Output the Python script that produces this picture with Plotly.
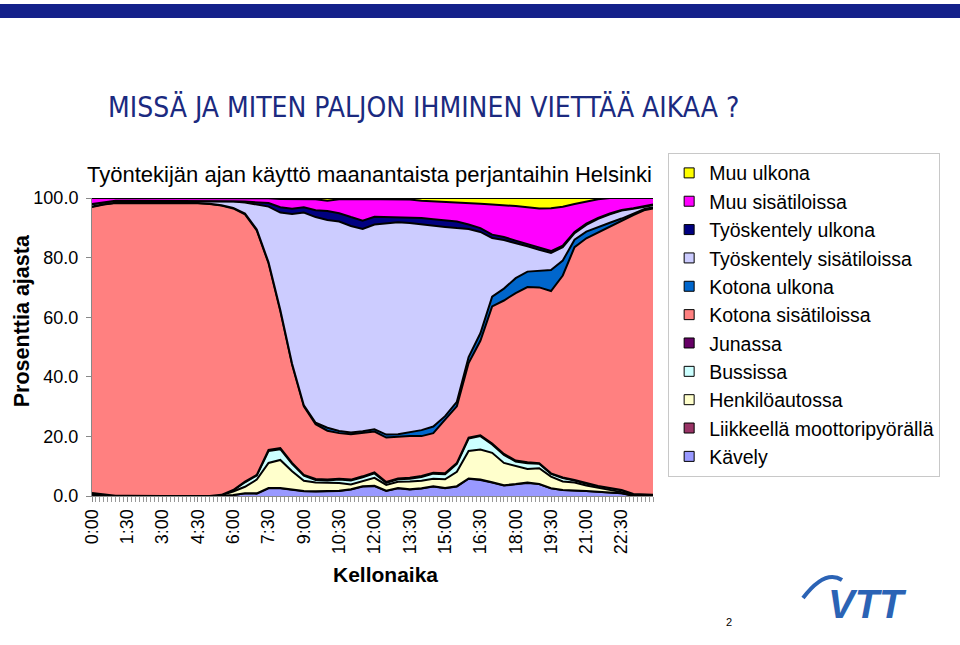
import plotly.graph_objects as go

# ---- data (percent of time, stacked bottom -> top) ----
times = ["0:00", "0:30", "1:00", "1:30", "2:00", "2:30", "3:00", "3:30", "4:00", "4:30",
         "5:00", "5:30", "6:00", "6:30", "7:00", "7:30", "8:00", "8:30", "9:00", "9:30",
         "10:00", "10:30", "11:00", "11:30", "12:00", "12:30", "13:00", "13:30", "14:00", "14:30",
         "15:00", "15:30", "16:00", "16:30", "17:00", "17:30", "18:00", "18:30", "19:00", "19:30",
         "20:00", "20:30", "21:00", "21:30", "22:00", "22:30", "23:00", "23:30", "23:50"]

kavely = [0.4, 0.2, 0, 0, 0, 0, 0, 0, 0, 0,
          0, 0.1, 0.3, 0.9, 0.8, 2.6, 2.6, 2.0, 1.6, 1.5,
          1.5, 1.7, 2.2, 3.2, 3.3, 1.7, 2.6, 2.2, 2.5, 3.2,
          2.6, 3.2, 5.8, 5.4, 4.5, 3.5, 3.9, 4.4, 4.0, 2.6,
          2.0, 1.9, 1.7, 1.4, 1.1, 0.9, 0.1, 0.1, 0.1]
moottoripyora = [0, 0, 0, 0, 0, 0, 0, 0, 0, 0,
                 0, 0, 0, 0, 0.1, 0.1, 0.1, 0.1, 0.1, 0.1,
                 0.1, 0.1, 0.1, 0.1, 0.1, 0.1, 0.1, 0.1, 0.1, 0.1,
                 0.1, 0.1, 0.1, 0.1, 0.1, 0.1, 0.1, 0.1, 0, 0,
                 0, 0, 0, 0, 0, 0, 0, 0, 0]
henkiloauto = [0.4, 0.3, 0.1, 0.1, 0, 0, 0, 0, 0, 0,
               0, 0.2, 1.2, 2.2, 4.6, 8.4, 9.4, 6.2, 3.4, 2.9,
               2.9, 2.6, 1.6, 1.8, 2.7, 1.9, 2.1, 2.6, 2.5, 2.5,
               2.9, 4.8, 9.2, 10.1, 9.9, 7.5, 6.1, 4.6, 5.3, 3.9,
               2.9, 2.6, 1.8, 1.4, 0.9, 0.4, 0.1, 0.2, 0.1]
bussi = [0.1, 0, 0, 0, 0, 0, 0, 0, 0, 0,
         0, 0.1, 0.4, 1.5, 1.4, 4.0, 3.6, 2.5, 1.7, 0.9,
         0.7, 1.1, 1.3, 1.2, 1.5, 0.7, 0.8, 0.9, 1.3, 1.7,
         1.7, 2.7, 4.2, 4.5, 2.8, 2.7, 1.5, 1.9, 1.5, 0.9,
         1.1, 0.7, 0.6, 0.5, 0.6, 0.6, 0.4, 0.1, 0.1]
junassa = [0.1, 0.1, 0, 0, 0, 0, 0, 0, 0, 0,
           0, 0, 0.1, 0.2, 0.2, 0.4, 0.4, 0.3, 0.3, 0.3,
           0.3, 0.3, 0.3, 0.3, 0.3, 0.3, 0.3, 0.3, 0.3, 0.3,
           0.3, 0.3, 0.3, 0.3, 0.3, 0.3, 0.3, 0.3, 0.2, 0.2,
           0.2, 0.2, 0.2, 0.1, 0.1, 0.1, 0.1, 0.1, 0.1]
kotona_sisa = [96.0, 97.2, 98.2, 98.2, 98.4, 98.4, 98.4, 98.3, 98.3, 98.2,
               98.0, 97.1, 94.5, 89.7, 82.0, 62.6, 46.0, 33.0, 23.0, 18.4,
               16.4, 15.3, 15.2, 14.5, 13.7, 14.9, 14.0, 14.0, 13.4, 13.3,
               18.0, 19.0, 25.0, 31.7, 46.0, 51.5, 56.2, 58.8, 59.0, 61.2,
               67.8, 78.1, 82.2, 85.1, 87.8, 90.5, 93.6, 95.5, 96.1]
kotona_ulko = [0.1, 0.1, 0.1, 0.1, 0.1, 0.1, 0.1, 0.1, 0.1, 0.1,
               0.1, 0.1, 0.2, 0.3, 0.3, 0.3, 0.3, 0.3, 0.3, 0.5,
               1.0, 0.7, 0.6, 0.6, 0.8, 1.0, 0.8, 1.2, 2.0, 2.2,
               1.2, 1.5, 2.0, 2.5, 3.3, 4.0, 5.0, 5.2, 5.5, 7.0,
               5.0, 2.5, 2.2, 1.8, 1.2, 0.6, 0.5, 0.4, 0.3]
tyo_sisa = [0.8, 0.5, 0.6, 0.6, 0.5, 0.5, 0.5, 0.6, 0.6, 0.7,
            0.9, 1.3, 2.1, 3.7, 8.5, 18.7, 32.7, 50.2, 64.7, 69.0,
            69.7, 70.3, 69.3, 67.9, 68.7, 70.8, 71.2, 70.3, 69.0, 67.3,
            63.5, 58.3, 43.0, 34.0, 19.7, 16.3, 11.8, 8.5, 7.1, 5.8,
            4.5, 2.2, 2.3, 2.7, 2.8, 2.7, 1.6, 0.8, 0.8]
tyo_ulko = [0.1, 0.1, 0.1, 0.1, 0.1, 0.1, 0.1, 0.1, 0.1, 0.1,
            0.1, 0.1, 0.1, 0.3, 0.7, 1.2, 1.8, 1.8, 1.8, 2.3,
            3.0, 2.8, 3.0, 2.8, 2.6, 2.2, 1.8, 1.9, 2.2, 2.3,
            2.3, 2.2, 1.5, 1.3, 1.1, 1.0, 0.8, 0.7, 0.7, 0.6,
            0.5, 0.4, 0.4, 0.3, 0.3, 0.2, 0.2, 0.2, 0.2]
muu_sisa = [2.0, 1.5, 0.9, 0.9, 0.9, 0.9, 0.9, 0.9, 0.9, 0.9,
            0.9, 1.0, 1.1, 1.2, 1.5, 1.6, 2.8, 3.3, 2.8, 3.7,
            3.5, 4.7, 6.1, 7.3, 5.9, 6.1, 6.0, 6.0, 5.8, 6.0,
            6.3, 6.6, 7.3, 8.2, 10.1, 10.7, 11.6, 12.4, 13.2, 14.4,
            13.1, 9.4, 7.4, 6.3, 5.2, 4.0, 3.4, 2.6, 2.2]
muu_ulko = [0, 0, 0, 0, 0, 0, 0, 0, 0, 0,
            0, 0, 0, 0, 0, 0.2, 0.4, 0.4, 0.4, 0.5,
            1.0, 0.5, 0.4, 0.4, 0.5, 0.4, 0.4, 0.6, 1.0, 1.2,
            1.2, 1.4, 1.7, 2.0, 2.3, 2.5, 2.8, 3.2, 3.5, 3.4,
            2.9, 2.0, 1.2, 0.4, 0, 0, 0, 0, 0]

tick_labels = ["0:00", "1:30", "3:00", "4:30", "6:00", "7:30", "9:00", "10:30",
               "12:00", "13:30", "15:00", "16:30", "18:00", "19:30", "21:00", "22:30"]

series = [  # bottom -> top
    ("Kävely", kavely, "#9999FF"),
    ("Liikkeellä moottoripyörällä", moottoripyora, "#993366"),
    ("Henkilöautossa", henkiloauto, "#FFFFCC"),
    ("Bussissa", bussi, "#CCFFFF"),
    ("Junassa", junassa, "#660066"),
    ("Kotona sisätiloissa", kotona_sisa, "#FF8080"),
    ("Kotona ulkona", kotona_ulko, "#0066CC"),
    ("Työskentely sisätiloissa", tyo_sisa, "#CCCCFF"),
    ("Työskentely ulkona", tyo_ulko, "#000080"),
    ("Muu sisätiloissa", muu_sisa, "#FF00FF"),
    ("Muu ulkona", muu_ulko, "#FFFF00"),
]


def to_min(t):
    h, m = t.split(":")
    return int(h) * 60 + int(m)


x = [to_min(t) for t in times]
tickvals = [to_min(t) for t in tick_labels]

FONT = "Liberation Sans, Arial, sans-serif"
NARROW = "Liberation Sans Narrow, Arial Narrow, DejaVu Sans Condensed, sans-serif"

fig = go.Figure()
for name, vals, col in series:
    fig.add_trace(go.Scatter(
        x=x, y=vals, name=name, mode="lines", stackgroup="one",
        line=dict(color="black", width=2), fillcolor=col,
        showlegend=False, hoverinfo="skip"))

# legend entries (top series first)
for name, vals, col in reversed(series):
    fig.add_trace(go.Scatter(
        x=[None], y=[None], name=name, mode="markers",
        marker=dict(symbol="square", size=10, color=col,
                    line=dict(color="black", width=1)),
        showlegend=True))

fig.update_layout(
    width=960, height=645,
    margin=dict(l=92, r=307, t=198, b=149),
    paper_bgcolor="white", plot_bgcolor="white",
    font=dict(family=FONT, color="black"),
    legend=dict(x=1.027, y=1.152, xanchor="left", yanchor="top",
                font=dict(family=FONT, size=19.5, color="black"),
                bordercolor="#C8C8C8", borderwidth=1, bgcolor="white",
                itemwidth=30, traceorder="normal", maxheight=500),
    xaxis=dict(range=[0, 1430], tickmode="array", tickvals=tickvals, ticktext=tick_labels,
               tickangle=-90, ticks="outside", ticklen=5, tickcolor="#888",
               showline=True, linecolor="#888", linewidth=1, showgrid=False, zeroline=False,
               tickfont=dict(family=FONT, size=18, color="black"),
               minor=dict(tickmode="linear", tick0=0, dtick=10, ticks="outside",
                          ticklen=5, tickcolor="#999", showgrid=False)),
    yaxis=dict(range=[0, 100], tickmode="array", tickvals=[0, 20, 40, 60, 80, 100],
               tickformat=".1f", ticks="outside", ticklen=5, tickcolor="#888",
               ticklabelstandoff=4,
               showline=True, linecolor="#888", linewidth=1, showgrid=False, zeroline=False,
               tickfont=dict(family=FONT, size=18, color="black")),
    shapes=[
        dict(type="rect", xref="paper", yref="paper", x0=-0.17, x1=1.56,
             y0=(496 - 18) / 298, y1=(496 - 4) / 298,
             fillcolor="#14218A", line=dict(width=0), layer="above"),
        dict(type="path", xref="paper", yref="paper",
             path="M 1.2674,-0.3423 Q 1.3066,-0.2450 1.3369,-0.2819",
             line=dict(color="#2B63B5", width=4)),
    ],
    annotations=[
        dict(text="MISSÄ JA MITEN PALJON IHMINEN VIETTÄÄ AIKAA ?", xref="paper", yref="paper",
             x=0.5918, y=1.304, xanchor="center", yanchor="middle", showarrow=False,
             font=dict(family=NARROW, size=28, color="#1B2A80")),
        dict(text="Työntekijän ajan käyttö maanantaista perjantaihin Helsinki", xref="paper",
             yref="paper", x=0.4955, y=1.08, xanchor="center", yanchor="middle",
             showarrow=False, font=dict(family=FONT, size=22, color="black")),
        dict(text="<b>Prosenttia ajasta</b>", xref="paper", yref="paper", x=-0.1245, y=0.587,
             xanchor="center", yanchor="middle", textangle=-90, showarrow=False,
             font=dict(family=FONT, size=21.5, color="black")),
        dict(text="<b>Kellonaika</b>", xref="paper", yref="paper", x=0.5223, y=-0.265,
             xanchor="center", yanchor="middle", showarrow=False,
             font=dict(family=FONT, size=21, color="black")),
        dict(text="2", xref="paper", yref="paper", x=1.1355, y=-0.4228,
             xanchor="center", yanchor="middle", showarrow=False,
             font=dict(family=FONT, size=11, color="black")),
        dict(text="<b><i>VTT</i></b>", xref="paper", yref="paper", x=1.382, y=-0.362,
             xanchor="center", yanchor="middle", showarrow=False,
             font=dict(family=FONT, size=40, color="#2B63B5")),
    ],
)

fig.write_html("out.html", config={"displayModeBar": False},
               post_script="document.body.style.margin='0px';")
